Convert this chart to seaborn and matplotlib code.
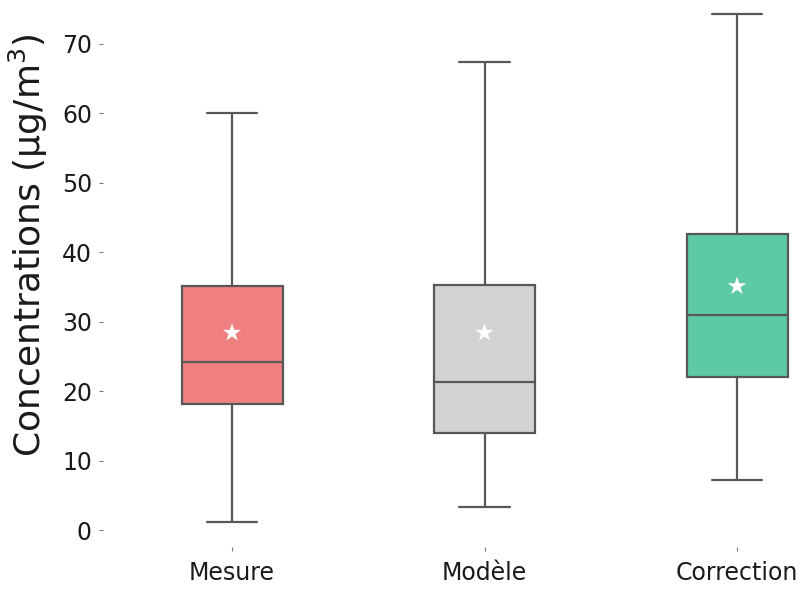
import numpy as np
import pandas as pd
import seaborn as sns
import matplotlib.pyplot as plt

# box statistics (µg/m3)
categories = ['Mesure', 'Modèle', 'Correction']
whisker_low = [1.2, 3.3, 7.2]
q1 = [18.1, 14.0, 22.0]
medians = [24.2, 21.3, 31.0]
q3 = [35.1, 35.3, 42.6]
whisker_high = [60.0, 67.4, 74.3]
means = [28.4, 28.4, 35.1]
colors = ['#f08080', '#d3d3d3', '#5ecaa3']

# five values per category give exactly these quartiles
rows = []
for i, cat in enumerate(categories):
    for v in (whisker_low[i], q1[i], medians[i], q3[i], whisker_high[i]):
        rows.append({'source': cat, 'conc': v})
df = pd.DataFrame(rows)
df_means = pd.DataFrame({'source': categories, 'conc': means})

sns.set_style('ticks')
plt.rcParams['font.family'] = ['DejaVu Sans']

fig = plt.figure(figsize=(8.11, 5.92), dpi=100)
ax = fig.add_axes([0.127, 0.0753, 0.873, 0.9247])

sns.boxplot(
    data=df, x='source', y='conc', hue='source',
    palette=colors, order=categories, width=0.4, saturation=1,
    whis=(0, 100), linecolor='#585858', linewidth=1.6,
    legend=False, ax=ax
)
sns.scatterplot(
    data=df_means, x='source', y='conc', marker='*',
    color='white', s=190, edgecolor='none', zorder=5, ax=ax
)

ax.set_xlim(-0.511, 2.293)
ax.set_ylim(-2.5, 76.3)
ax.set_yticks(range(0, 71, 10))
for s in ax.spines.values():
    s.set_visible(False)
ax.tick_params(axis='both', length=3, width=0.8, color='#777777',
               labelsize=17, labelcolor='#1a1a1a')
ax.tick_params(axis='y', pad=5)
ax.tick_params(axis='x', pad=7)
ax.set_xlabel('')
ax.set_ylabel(r'Concentrations ($\mathrm{\mu}$g/m$^3$)', fontsize=26, color='#1a1a1a')
ax.yaxis.set_label_coords(-0.075, 0.552)

fig.savefig('out.png', dpi=100)
